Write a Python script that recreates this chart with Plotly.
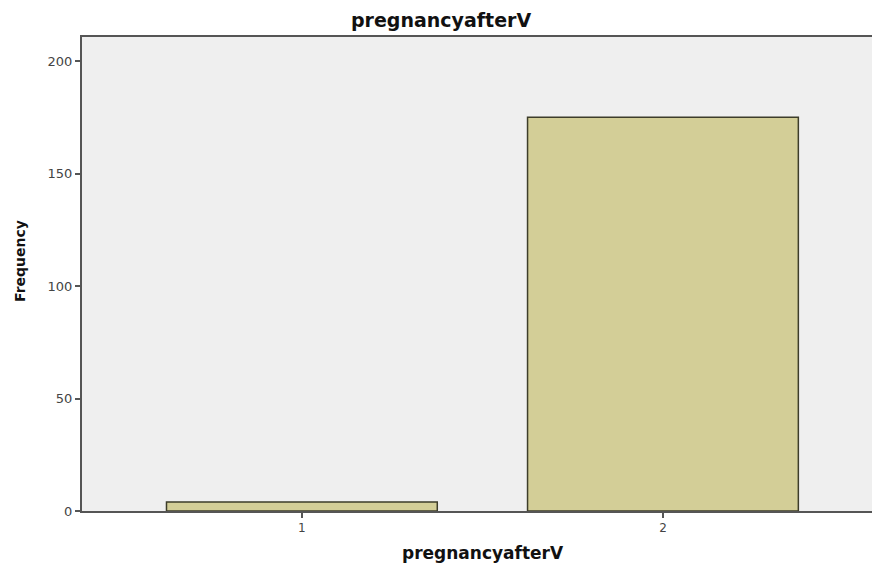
import plotly.graph_objects as go

categories = ["1", "2"]
frequencies = [4, 175]
x_positions = [1, 2]
y_ticks = [0, 50, 100, 150, 200]
chart_title = "pregnancyafterV"
x_title = "pregnancyafterV"
y_title = "Frequency"

title_font = "DejaVu Sans, Verdana, sans-serif"
L, T, W, H = 82, 37, 790, 474  # plot area in pixels


def px_x(px):
    return (px - L) / W


def px_y(py):
    return 1 - (py - T) / H


fig = go.Figure()
fig.add_trace(go.Bar(
    x=x_positions, y=frequencies, width=0.75,
    marker=dict(color="#d3ce97", line=dict(color="#3d3d2a", width=1.5)),
))

fig.update_layout(
    width=872, height=565,
    margin=dict(l=L, r=0, t=T, b=565 - T - H, autoexpand=False),
    paper_bgcolor="white", plot_bgcolor="#efefef",
    showlegend=False,
    font=dict(family=title_font, color="#333333"),
    annotations=[
        dict(text=f"<b>{chart_title}</b>", xref="paper", yref="paper",
             x=px_x(441), y=px_y(20), showarrow=False, yanchor="middle", xanchor="center",
             font=dict(size=19, color="#111111")),
        dict(text=f"<b>{x_title}</b>", xref="paper", yref="paper",
             x=px_x(483), y=px_y(553), showarrow=False, yanchor="middle", xanchor="center",
             font=dict(size=17, color="#111111")),
        dict(text=f"<b>{y_title}</b>", xref="paper", yref="paper", textangle=-90,
             x=px_x(20), y=px_y(261), showarrow=False, yanchor="middle", xanchor="center",
             font=dict(size=14, color="#111111")),
    ],
)
fig.update_xaxes(
    range=[0.391, 2.579], tickvals=x_positions, ticktext=categories,
    ticks="outside", ticklen=5, tickcolor="#555555", tickwidth=1.5,
    showline=True, linecolor="#555555", linewidth=2, mirror=True,
    showgrid=False, zeroline=False, tickfont=dict(size=12, color="#444444"),
)
fig.update_yaxes(
    range=[0, 210.7], tickvals=y_ticks,
    ticks="outside", ticklen=5, tickcolor="#555555", tickwidth=1.5,
    showline=True, linecolor="#555555", linewidth=2,
    showgrid=False, zeroline=False, tickfont=dict(size=13, color="#444444"),
)

fig.write_html("out.html", config={"displayModeBar": False},
               post_script="document.body.style.margin='0';")
